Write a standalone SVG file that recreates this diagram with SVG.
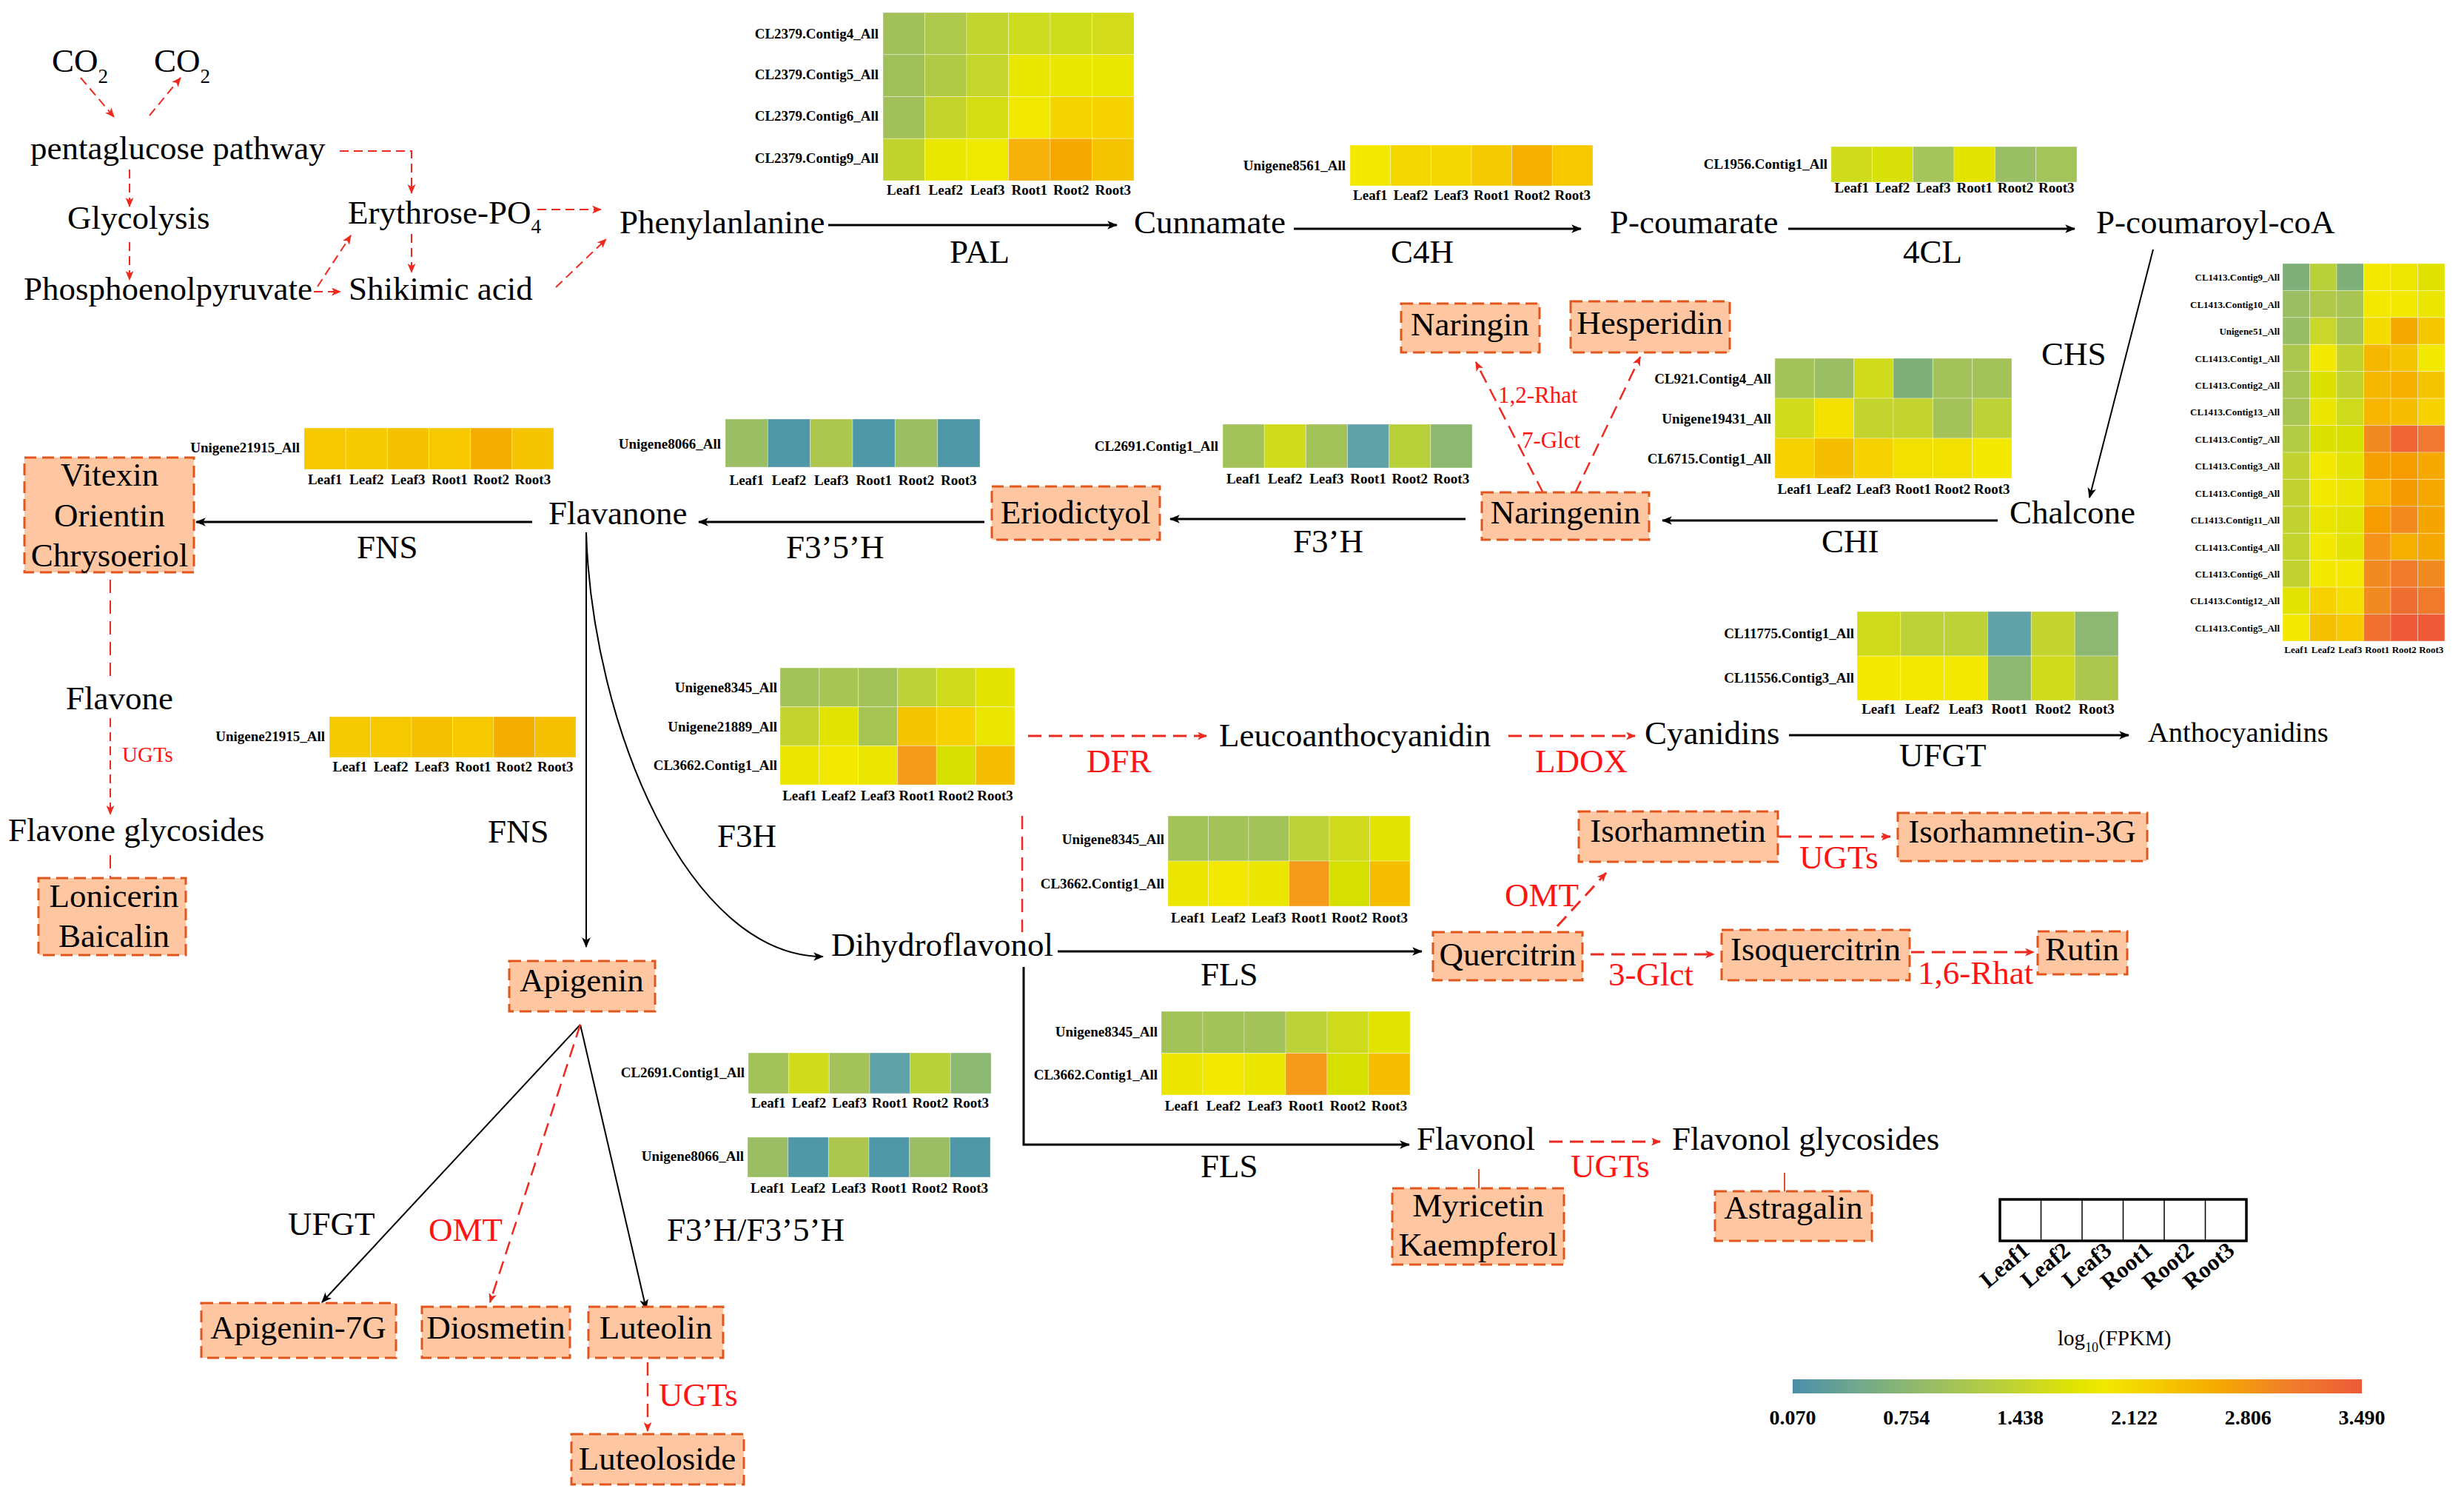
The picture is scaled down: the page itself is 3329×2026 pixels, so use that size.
<svg xmlns="http://www.w3.org/2000/svg" width="3329" height="2026" viewBox="0 0 3329 2026">
<style>
text{font-family:"Liberation Serif","Times New Roman",serif;font-size:45px;fill:#000}
.r{fill:#FF1414}
.s{font-size:31px}
.hl{font-weight:bold;font-size:19px}
.hc{font-weight:bold;font-size:19px;text-anchor:middle}
.hs{font-weight:bold;font-size:13px}
.hsc{font-weight:bold;font-size:13px;text-anchor:middle}
.m{text-anchor:middle}
.e{text-anchor:end}
.box{fill:#FFC7A1;stroke:#E2561E;stroke-width:3;stroke-dasharray:16 8}
.ar{stroke:#000;stroke-width:3;fill:none;marker-end:url(#ab)}
.ar2{stroke:#000;stroke-width:2;fill:none;marker-end:url(#ab)}
.rd{stroke:#EE2A1E;stroke-width:3;fill:none;stroke-dasharray:18 10;marker-end:url(#arr)}
.rdn{stroke:#EE2A1E;stroke-width:2.5;fill:none;stroke-dasharray:18 10}
.rt{stroke:#EE2A1E;stroke-width:2;fill:none;stroke-dasharray:12 7;marker-end:url(#arr)}
.hm rect{stroke:#fff;stroke-opacity:.35;stroke-width:1}
.lg{font-weight:bold;font-size:31px}
.tk{font-weight:bold;font-size:28px;text-anchor:middle}
.sm{font-size:29px}
</style>
<defs>
<marker id="ab" viewBox="0 0 12 10" refX="11" refY="5" markerWidth="14" markerHeight="12" markerUnits="userSpaceOnUse" orient="auto"><path d="M0,0 L12,5 L0,10 L3,5z" fill="#000"/></marker>
<marker id="arr" viewBox="0 0 12 10" refX="11" refY="5" markerWidth="13" markerHeight="11" markerUnits="userSpaceOnUse" orient="auto"><path d="M0,0 L12,5 L0,10 L3,5z" fill="#EE2A1E"/></marker>
<linearGradient id="cb" x1="0" x2="1" y1="0" y2="0">
<stop offset="0" stop-color="#4A8FAA"/><stop offset=".12" stop-color="#74A98A"/><stop offset=".25" stop-color="#9ABF62"/><stop offset=".38" stop-color="#BDD236"/><stop offset=".5" stop-color="#E2E400"/><stop offset=".55" stop-color="#F2E800"/><stop offset=".65" stop-color="#F5C800"/><stop offset=".75" stop-color="#F5A800"/><stop offset=".88" stop-color="#F07C2C"/><stop offset="1" stop-color="#EE5A38"/>
</linearGradient>
</defs>
<rect width="3329" height="2026" fill="#fff"/>

<g id="connectors">
<path class="rt" d="M109,105 L154,158"/>
<path class="rt" d="M202,156 L244,105"/>
<path class="rt" d="M459,204 H556 V261"/>
<path class="rt" d="M175,229 V279"/>
<path class="rt" d="M175,327 V378"/>
<path class="rt" d="M424,394 H460"/>
<path class="rt" d="M429,387 L474,318"/>
<path class="rt" d="M556,316 V368"/>
<path class="rt" d="M726,283 H812"/>
<path class="rt" d="M751,388 L819,323"/>
<path class="ar" d="M1119,304 H1509"/>
<path class="ar" d="M1748,309 H2136"/>
<path class="ar" d="M2416,309 H2803"/>
<path class="ar2" d="M2909,337 L2823,672"/>
<path class="ar" d="M2699,703 H2246"/>
<path class="ar" d="M1980,701 H1581"/>
<path class="ar" d="M1330,705 H944"/>
<path class="ar" d="M719,705 H265"/>
<path class="ar2" d="M792,719 V1279"/>
<path class="ar2" d="M792,719 C800,980 930,1292 1112,1292"/>
<path class="ar" d="M2417,993 H2876"/>
<path class="ar" d="M1429,1285 H1921"/>
<path class="ar" d="M1383,1306 V1546 H1904"/>
<path class="ar2" d="M784,1384 L435,1759"/>
<path class="ar2" d="M784,1384 L873,1768"/>
<path class="rd" d="M2085,666 L1994,489" style="stroke-width:2.5"/>
<path class="rd" d="M2128,666 L2216,482" style="stroke-width:2.5"/>
<path class="rd" d="M1389,994 H1630"/>
<path class="rd" d="M2038,994 H2209"/>
<path class="rdn" d="M1381,1102 V1259"/>
<path class="rd" d="M2104,1251 L2170,1179"/>
<path class="rd" d="M2402,1130 H2554"/>
<path class="rd" d="M2149,1289 H2316"/>
<path class="rd" d="M2582,1286 H2748"/>
<path class="rd" d="M2093,1542 H2243"/>
<path class="rdn" d="M149,783 V915" style="stroke-width:2"/>
<path class="rt" d="M149,970 V1100"/>
<path class="rdn" d="M149,1155 V1186" style="stroke-width:2"/>
<path class="rd" d="M784,1384 L662,1759" style="stroke-width:2.5"/>
<path class="rd" d="M875,1840 V1933" style="stroke-width:2.5"/>
<path d="M1998,1579 V1605 M2411,1584 V1609" stroke="#E0502A" stroke-width="2" fill="none"/>
</g>

<g id="labels">
<text x="70" y="97">CO<tspan font-size="27" dy="15">2</tspan></text>
<text x="208" y="97">CO<tspan font-size="27" dy="15">2</tspan></text>
<text x="41" y="215">pentaglucose pathway</text>
<text x="91" y="309">Glycolysis</text>
<text x="32" y="405">Phosphoenolpyruvate</text>
<text x="470" y="302">Erythrose-PO<tspan font-size="27" dy="13">4</tspan></text>
<text x="471" y="405">Shikimic acid</text>
<text x="837" y="315">Phenylanlanine</text>
<text x="1532" y="315">Cunnamate</text>
<text x="2175" y="315">P-coumarate</text>
<text x="2832" y="315">P-coumaroyl-coA</text>
<text x="1283" y="355">PAL</text>
<text x="1879" y="355">C4H</text>
<text x="2571" y="355">4CL</text>
<text x="2758" y="493">CHS</text>
<text x="2715" y="707">Chalcone</text>
<text x="2461" y="746">CHI</text>
<text x="1747" y="746">F3’H</text>
<text x="741" y="708">Flavanone</text>
<text x="1062" y="754">F3’5’H</text>
<text x="482" y="754">FNS</text>
<text x="89" y="958">Flavone</text>
<text class="r sm" x="165" y="1029">UGTs</text>
<text x="11" y="1136">Flavone glycosides</text>
<text x="659" y="1138">FNS</text>
<text x="969" y="1144">F3H</text>
<text x="1647" y="1008">Leucoanthocyanidin</text>
<text class="r" x="1468" y="1043">DFR</text>
<text class="r" x="2074" y="1043">LDOX</text>
<text x="2222" y="1005">Cyanidins</text>
<text x="2566" y="1035">UFGT</text>
<text x="2902" y="1002" style="font-size:38.5px">Anthocyanidins</text>
<text x="1123" y="1291">Dihydroflavonol</text>
<text x="1622" y="1331">FLS</text>
<text x="1622" y="1590">FLS</text>
<text class="r" x="2033" y="1224">OMT</text>
<text class="r" x="2431" y="1173">UGTs</text>
<text class="r" x="2173" y="1331">3-Glct</text>
<text class="r" x="2591" y="1329">1,6-Rhat</text>
<text x="1914" y="1553">Flavonol</text>
<text class="r" x="2122" y="1590">UGTs</text>
<text x="2259" y="1553">Flavonol glycosides</text>
<text x="389" y="1668">UFGT</text>
<text class="r" x="579" y="1676">OMT</text>
<text x="901" y="1676">F3’H/F3’5’H</text>
<text class="r" x="890" y="1899">UGTs</text>
<text class="r s" x="2024" y="544">1,2-Rhat</text>
<text class="r s" x="2056" y="605">7-Glct</text>
</g>

<g id="node-vitexin"><rect class="box" x="33" y="618" width="229" height="155"/><text class="m" x="148" y="656">Vitexin</text><text class="m" x="148" y="711">Orientin</text><text class="m" x="148" y="765">Chrysoeriol</text></g>
<g id="node-lonicerin"><rect class="box" x="52" y="1186" width="199" height="104"/><text class="m" x="154" y="1225">Lonicerin</text><text class="m" x="154" y="1279">Baicalin</text></g>
<g id="node-naringin"><rect class="box" x="1893" y="410" width="187" height="66"/><text class="m" x="1986" y="453">Naringin</text></g>
<g id="node-hesperidin"><rect class="box" x="2122" y="407" width="215" height="69"/><text class="m" x="2229" y="451">Hesperidin</text></g>
<g id="node-eriodictyol"><rect class="box" x="1340" y="657" width="227" height="72"/><text class="m" x="1453" y="707">Eriodictyol</text></g>
<g id="node-naringenin"><rect class="box" x="2002" y="665" width="226" height="64"/><text class="m" x="2115" y="707">Naringenin</text></g>
<g id="node-apigenin"><rect class="box" x="688" y="1298" width="197" height="68"/><text class="m" x="786" y="1339">Apigenin</text></g>
<g id="node-quercitrin"><rect class="box" x="1936" y="1259" width="202" height="65"/><text class="m" x="2037" y="1304">Quercitrin</text></g>
<g id="node-isorhamnetin"><rect class="box" x="2133" y="1096" width="269" height="68"/><text class="m" x="2267" y="1137">Isorhamnetin</text></g>
<g id="node-isoquercitrin"><rect class="box" x="2326" y="1256" width="254" height="68"/><text class="m" x="2453" y="1297">Isoquercitrin</text></g>
<g id="node-rutin"><rect class="box" x="2753" y="1258" width="121" height="58"/><text class="m" x="2813" y="1297">Rutin</text></g>
<g id="node-isorhamnetin3g"><rect class="box" x="2564" y="1098" width="337" height="65"/><text class="m" x="2732" y="1138">Isorhamnetin-3G</text></g>
<g id="node-apigenin7g"><rect class="box" x="272" y="1760" width="263" height="74"/><text class="m" x="403" y="1808">Apigenin-7G</text></g>
<g id="node-diosmetin"><rect class="box" x="570" y="1765" width="200" height="69"/><text class="m" x="670" y="1808">Diosmetin</text></g>
<g id="node-luteolin"><rect class="box" x="795" y="1765" width="182" height="69"/><text class="m" x="886" y="1808">Luteolin</text></g>
<g id="node-luteoloside"><rect class="box" x="772" y="1937" width="233" height="68"/><text class="m" x="888" y="1985">Luteoloside</text></g>
<g id="node-myricetin"><rect class="box" x="1881" y="1605" width="232" height="103"/><text class="m" x="1997" y="1643">Myricetin</text><text class="m" x="1997" y="1696">Kaempferol</text></g>
<g id="node-astragalin"><rect class="box" x="2317" y="1609" width="212" height="67"/><text class="m" x="2423" y="1646">Astragalin</text></g>

<g id="hm-pal" class="hm" transform="translate(1193,17)">
<rect x="0" y="0" width="56.5" height="56.75" fill="#A2C15A"/><rect x="56.5" y="0" width="56.5" height="56.75" fill="#AEC84C"/><rect x="113" y="0" width="56.5" height="56.75" fill="#C2D430"/><rect x="169.5" y="0" width="56.5" height="56.75" fill="#CEDC1F"/><rect x="226" y="0" width="56.5" height="56.75" fill="#CEDC1E"/><rect x="282.5" y="0" width="56.5" height="56.75" fill="#D2DC1A"/>
<rect x="0" y="56.75" width="56.5" height="56.75" fill="#A0C059"/><rect x="56.5" y="56.75" width="56.5" height="56.75" fill="#B0C947"/><rect x="113" y="56.75" width="56.5" height="56.75" fill="#C4D52C"/><rect x="169.5" y="56.75" width="56.5" height="56.75" fill="#E9E600"/><rect x="226" y="56.75" width="56.5" height="56.75" fill="#E9E600"/><rect x="282.5" y="56.75" width="56.5" height="56.75" fill="#E9E600"/>
<rect x="0" y="113.5" width="56.5" height="56.75" fill="#A2C15A"/><rect x="56.5" y="113.5" width="56.5" height="56.75" fill="#C4D42D"/><rect x="113" y="113.5" width="56.5" height="56.75" fill="#D4DE12"/><rect x="169.5" y="113.5" width="56.5" height="56.75" fill="#F2E900"/><rect x="226" y="113.5" width="56.5" height="56.75" fill="#F5D500"/><rect x="282.5" y="113.5" width="56.5" height="56.75" fill="#F5D200"/>
<rect x="0" y="170.25" width="56.5" height="56.75" fill="#C0D32E"/><rect x="56.5" y="170.25" width="56.5" height="56.75" fill="#E9E700"/><rect x="113" y="170.25" width="56.5" height="56.75" fill="#EFE800"/><rect x="169.5" y="170.25" width="56.5" height="56.75" fill="#F6B10A"/><rect x="226" y="170.25" width="56.5" height="56.75" fill="#F5A800"/><rect x="282.5" y="170.25" width="56.5" height="56.75" fill="#F5C400"/>
<text class="hl e" x="-6" y="35">CL2379.Contig4_All</text><text class="hl e" x="-6" y="90">CL2379.Contig5_All</text><text class="hl e" x="-6" y="146">CL2379.Contig6_All</text><text class="hl e" x="-6" y="203">CL2379.Contig9_All</text>
<text class="hc" x="28.25" y="246">Leaf1</text><text class="hc" x="84.75" y="246">Leaf2</text><text class="hc" x="141.25" y="246">Leaf3</text><text class="hc" x="197.75" y="246">Root1</text><text class="hc" x="254.25" y="246">Root2</text><text class="hc" x="310.75" y="246">Root3</text>
</g>

<g id="hm-c4h" class="hm" transform="translate(1824,196)">
<rect x="0" width="54.67" height="55" fill="#F2E800"/><rect x="54.67" width="54.67" height="55" fill="#F5D700"/><rect x="109.33" width="54.67" height="55" fill="#F5D800"/><rect x="164" width="54.67" height="55" fill="#F5CA00"/><rect x="218.67" width="54.67" height="55" fill="#F5B000"/><rect x="273.33" width="54.67" height="55" fill="#F5C800"/>
<text class="hl e" x="-6" y="34">Unigene8561_All</text>
<text class="hc" x="27.3" y="74">Leaf1</text><text class="hc" x="82" y="74">Leaf2</text><text class="hc" x="136.7" y="74">Leaf3</text><text class="hc" x="191.3" y="74">Root1</text><text class="hc" x="246" y="74">Root2</text><text class="hc" x="300.7" y="74">Root3</text>
</g>

<g id="hm-4cl" class="hm" transform="translate(2474,198)">
<rect x="0" width="55.33" height="48" fill="#CEDC1C"/><rect x="55.33" width="55.33" height="48" fill="#D8E10A"/><rect x="110.67" width="55.33" height="48" fill="#A5C45A"/><rect x="166" width="55.33" height="48" fill="#E2E400"/><rect x="221.33" width="55.33" height="48" fill="#9ABF65"/><rect x="276.67" width="55.33" height="48" fill="#A3C45A"/>
<text class="hl e" x="-5" y="30">CL1956.Contig1_All</text>
<text class="hc" x="27.7" y="62">Leaf1</text><text class="hc" x="83" y="62">Leaf2</text><text class="hc" x="138.3" y="62">Leaf3</text><text class="hc" x="193.7" y="62">Root1</text><text class="hc" x="249" y="62">Root2</text><text class="hc" x="304.3" y="62">Root3</text>
</g>

<g id="hm-chs" class="hm" transform="translate(3084,356)">
<rect x="0" y="0" width="36.5" height="36.43" fill="#80B07A"/><rect x="36.5" y="0" width="36.5" height="36.43" fill="#B8D03A"/><rect x="73" y="0" width="36.5" height="36.43" fill="#80B07A"/><rect x="109.5" y="0" width="36.5" height="36.43" fill="#F2E800"/><rect x="146" y="0" width="36.5" height="36.43" fill="#EDE600"/><rect x="182.5" y="0" width="36.5" height="36.43" fill="#E2E200"/>
<rect x="0" y="36.43" width="36.5" height="36.43" fill="#9BBE64"/><rect x="36.5" y="36.43" width="36.5" height="36.43" fill="#B0C94A"/><rect x="73" y="36.43" width="36.5" height="36.43" fill="#A8C553"/><rect x="109.5" y="36.43" width="36.5" height="36.43" fill="#F2E800"/><rect x="146" y="36.43" width="36.5" height="36.43" fill="#F2E800"/><rect x="182.5" y="36.43" width="36.5" height="36.43" fill="#EBE600"/>
<rect x="0" y="72.86" width="36.5" height="36.43" fill="#98BD66"/><rect x="36.5" y="72.86" width="36.5" height="36.43" fill="#C8D72A"/><rect x="73" y="72.86" width="36.5" height="36.43" fill="#A6C454"/><rect x="109.5" y="72.86" width="36.5" height="36.43" fill="#F4DC00"/><rect x="146" y="72.86" width="36.5" height="36.43" fill="#F5A800"/><rect x="182.5" y="72.86" width="36.5" height="36.43" fill="#F5C500"/>
<rect x="0" y="109.29" width="36.5" height="36.43" fill="#ADC64E"/><rect x="36.5" y="109.29" width="36.5" height="36.43" fill="#F2E800"/><rect x="73" y="109.29" width="36.5" height="36.43" fill="#C2D331"/><rect x="109.5" y="109.29" width="36.5" height="36.43" fill="#F5B800"/><rect x="146" y="109.29" width="36.5" height="36.43" fill="#F5C400"/><rect x="182.5" y="109.29" width="36.5" height="36.43" fill="#F2E800"/>
<rect x="0" y="145.71" width="36.5" height="36.43" fill="#A8C553"/><rect x="36.5" y="145.71" width="36.5" height="36.43" fill="#DCE100"/><rect x="73" y="145.71" width="36.5" height="36.43" fill="#C2D331"/><rect x="109.5" y="145.71" width="36.5" height="36.43" fill="#F5B800"/><rect x="146" y="145.71" width="36.5" height="36.43" fill="#F5B000"/><rect x="182.5" y="145.71" width="36.5" height="36.43" fill="#F5C400"/>
<rect x="0" y="182.14" width="36.5" height="36.43" fill="#A8C553"/><rect x="36.5" y="182.14" width="36.5" height="36.43" fill="#EAE600"/><rect x="73" y="182.14" width="36.5" height="36.43" fill="#CEDB1C"/><rect x="109.5" y="182.14" width="36.5" height="36.43" fill="#F5B500"/><rect x="146" y="182.14" width="36.5" height="36.43" fill="#F5BE00"/><rect x="182.5" y="182.14" width="36.5" height="36.43" fill="#F5D200"/>
<rect x="0" y="218.57" width="36.5" height="36.43" fill="#B4CC44"/><rect x="36.5" y="218.57" width="36.5" height="36.43" fill="#DCE100"/><rect x="73" y="218.57" width="36.5" height="36.43" fill="#D6E000"/><rect x="109.5" y="218.57" width="36.5" height="36.43" fill="#F28A22"/><rect x="146" y="218.57" width="36.5" height="36.43" fill="#EF6535"/><rect x="182.5" y="218.57" width="36.5" height="36.43" fill="#F07830"/>
<rect x="0" y="255" width="36.5" height="36.43" fill="#C2D331"/><rect x="36.5" y="255" width="36.5" height="36.43" fill="#F2E800"/><rect x="73" y="255" width="36.5" height="36.43" fill="#E2E400"/><rect x="109.5" y="255" width="36.5" height="36.43" fill="#F5A000"/><rect x="146" y="255" width="36.5" height="36.43" fill="#F59C00"/><rect x="182.5" y="255" width="36.5" height="36.43" fill="#F5A800"/>
<rect x="0" y="291.43" width="36.5" height="36.43" fill="#C2D331"/><rect x="36.5" y="291.43" width="36.5" height="36.43" fill="#F2E800"/><rect x="73" y="291.43" width="36.5" height="36.43" fill="#EAE600"/><rect x="109.5" y="291.43" width="36.5" height="36.43" fill="#F5B500"/><rect x="146" y="291.43" width="36.5" height="36.43" fill="#F59A00"/><rect x="182.5" y="291.43" width="36.5" height="36.43" fill="#F5A800"/>
<rect x="0" y="327.86" width="36.5" height="36.43" fill="#C2D331"/><rect x="36.5" y="327.86" width="36.5" height="36.43" fill="#EAE600"/><rect x="73" y="327.86" width="36.5" height="36.43" fill="#E2E400"/><rect x="109.5" y="327.86" width="36.5" height="36.43" fill="#F59C00"/><rect x="146" y="327.86" width="36.5" height="36.43" fill="#F28A1E"/><rect x="182.5" y="327.86" width="36.5" height="36.43" fill="#F5A500"/>
<rect x="0" y="364.29" width="36.5" height="36.43" fill="#C4D42F"/><rect x="36.5" y="364.29" width="36.5" height="36.43" fill="#F2E800"/><rect x="73" y="364.29" width="36.5" height="36.43" fill="#E2E400"/><rect x="109.5" y="364.29" width="36.5" height="36.43" fill="#F5921A"/><rect x="146" y="364.29" width="36.5" height="36.43" fill="#F5AF00"/><rect x="182.5" y="364.29" width="36.5" height="36.43" fill="#F5A800"/>
<rect x="0" y="400.71" width="36.5" height="36.43" fill="#C2D331"/><rect x="36.5" y="400.71" width="36.5" height="36.43" fill="#F2E800"/><rect x="73" y="400.71" width="36.5" height="36.43" fill="#F2E800"/><rect x="109.5" y="400.71" width="36.5" height="36.43" fill="#F28A22"/><rect x="146" y="400.71" width="36.5" height="36.43" fill="#F07A2C"/><rect x="182.5" y="400.71" width="36.5" height="36.43" fill="#F28A22"/>
<rect x="0" y="437.14" width="36.5" height="36.43" fill="#E2E400"/><rect x="36.5" y="437.14" width="36.5" height="36.43" fill="#F5D200"/><rect x="73" y="437.14" width="36.5" height="36.43" fill="#F3DE00"/><rect x="109.5" y="437.14" width="36.5" height="36.43" fill="#F28A22"/><rect x="146" y="437.14" width="36.5" height="36.43" fill="#EF6E32"/><rect x="182.5" y="437.14" width="36.5" height="36.43" fill="#F07A2C"/>
<rect x="0" y="473.57" width="36.5" height="36.43" fill="#F2E800"/><rect x="36.5" y="473.57" width="36.5" height="36.43" fill="#F5C000"/><rect x="73" y="473.57" width="36.5" height="36.43" fill="#F5C800"/><rect x="109.5" y="473.57" width="36.5" height="36.43" fill="#EF7030"/><rect x="146" y="473.57" width="36.5" height="36.43" fill="#EE5A38"/><rect x="182.5" y="473.57" width="36.5" height="36.43" fill="#EE5A38"/>
<text class="hs e" x="-4" y="23.2">CL1413.Contig9_All</text><text class="hs e" x="-4" y="59.6">CL1413.Contig10_All</text><text class="hs e" x="-4" y="96.1">Unigene51_All</text><text class="hs e" x="-4" y="132.5">CL1413.Contig1_All</text><text class="hs e" x="-4" y="168.9">CL1413.Contig2_All</text><text class="hs e" x="-4" y="205.4">CL1413.Contig13_All</text><text class="hs e" x="-4" y="241.8">CL1413.Contig7_All</text><text class="hs e" x="-4" y="278.2">CL1413.Contig3_All</text><text class="hs e" x="-4" y="314.6">CL1413.Contig8_All</text><text class="hs e" x="-4" y="351.1">CL1413.Contig11_All</text><text class="hs e" x="-4" y="387.5">CL1413.Contig4_All</text><text class="hs e" x="-4" y="423.9">CL1413.Contig6_All</text><text class="hs e" x="-4" y="460.4">CL1413.Contig12_All</text><text class="hs e" x="-4" y="496.8">CL1413.Contig5_All</text>
<text class="hsc" x="18.25" y="526">Leaf1</text><text class="hsc" x="54.75" y="526">Leaf2</text><text class="hsc" x="91.25" y="526">Leaf3</text><text class="hsc" x="127.75" y="526">Root1</text><text class="hsc" x="164.25" y="526">Root2</text><text class="hsc" x="200.75" y="526">Root3</text>
</g>

<g id="hm-fns1" class="hm" transform="translate(411,578)">
<rect x="0" width="56.17" height="56" fill="#F5C800"/><rect x="56.17" width="56.17" height="56" fill="#F5CA00"/><rect x="112.33" width="56.17" height="56" fill="#F5C200"/><rect x="168.5" width="56.17" height="56" fill="#F5C800"/><rect x="224.67" width="56.17" height="56" fill="#F5AE00"/><rect x="280.83" width="56.17" height="56" fill="#F5C400"/>
<text class="hl e" x="-6" y="33">Unigene21915_All</text>
<text class="hc" x="28.1" y="76">Leaf1</text><text class="hc" x="84.3" y="76">Leaf2</text><text class="hc" x="140.4" y="76">Leaf3</text><text class="hc" x="196.6" y="76">Root1</text><text class="hc" x="252.8" y="76">Root2</text><text class="hc" x="308.9" y="76">Root3</text>
</g>

<g id="hm-f35h" class="hm" transform="translate(980,566)">
<rect x="0" width="57.33" height="65" fill="#9BBE64"/><rect x="57.33" width="57.33" height="65" fill="#4E98A8"/><rect x="114.67" width="57.33" height="65" fill="#ADC64E"/><rect x="172" width="57.33" height="65" fill="#4E98A8"/><rect x="229.33" width="57.33" height="65" fill="#9BBE64"/><rect x="286.67" width="57.33" height="65" fill="#4E98A8"/>
<text class="hl e" x="-6" y="40">Unigene8066_All</text>
<text class="hc" x="28.7" y="89">Leaf1</text><text class="hc" x="86" y="89">Leaf2</text><text class="hc" x="143.3" y="89">Leaf3</text><text class="hc" x="200.7" y="89">Root1</text><text class="hc" x="258" y="89">Root2</text><text class="hc" x="315.3" y="89">Root3</text>
</g>

<g id="hm-f3h-cl2691" class="hm" transform="translate(1652,573)">
<rect x="0" width="56.17" height="59" fill="#A3C25A"/><rect x="56.17" width="56.17" height="59" fill="#D0DB1C"/><rect x="112.33" width="56.17" height="59" fill="#A3C25A"/><rect x="168.5" width="56.17" height="59" fill="#5FA2A8"/><rect x="224.67" width="56.17" height="59" fill="#B8D03A"/><rect x="280.83" width="56.17" height="59" fill="#8DB872"/>
<text class="hl e" x="-6" y="36">CL2691.Contig1_All</text>
<text class="hc" x="28.1" y="80">Leaf1</text><text class="hc" x="84.3" y="80">Leaf2</text><text class="hc" x="140.4" y="80">Leaf3</text><text class="hc" x="196.6" y="80">Root1</text><text class="hc" x="252.8" y="80">Root2</text><text class="hc" x="308.9" y="80">Root3</text>
</g>

<g id="hm-chi" class="hm" transform="translate(2398,484)">
<rect x="0" y="0" width="53.33" height="54" fill="#A3C25A"/><rect x="53.33" y="0" width="53.33" height="54" fill="#9BBE64"/><rect x="106.67" y="0" width="53.33" height="54" fill="#D0DB1C"/><rect x="160" y="0" width="53.33" height="54" fill="#80B07A"/><rect x="213.33" y="0" width="53.33" height="54" fill="#A3C25A"/><rect x="266.67" y="0" width="53.33" height="54" fill="#A3C25A"/>
<rect x="0" y="54" width="53.33" height="54" fill="#D0DB1C"/><rect x="53.33" y="54" width="53.33" height="54" fill="#F2E100"/><rect x="106.67" y="54" width="53.33" height="54" fill="#C4D42F"/><rect x="160" y="54" width="53.33" height="54" fill="#C4D42F"/><rect x="213.33" y="54" width="53.33" height="54" fill="#A3C25A"/><rect x="266.67" y="54" width="53.33" height="54" fill="#BCD238"/>
<rect x="0" y="108" width="53.33" height="54" fill="#F5D200"/><rect x="53.33" y="108" width="53.33" height="54" fill="#F5BE00"/><rect x="106.67" y="108" width="53.33" height="54" fill="#F5D200"/><rect x="160" y="108" width="53.33" height="54" fill="#F2E100"/><rect x="213.33" y="108" width="53.33" height="54" fill="#F2E100"/><rect x="266.67" y="108" width="53.33" height="54" fill="#F2E800"/>
<text class="hl e" x="-5" y="34">CL921.Contig4_All</text><text class="hl e" x="-5" y="88">Unigene19431_All</text><text class="hl e" x="-5" y="142">CL6715.Contig1_All</text>
<text class="hc" x="26.7" y="183">Leaf1</text><text class="hc" x="80" y="183">Leaf2</text><text class="hc" x="133.3" y="183">Leaf3</text><text class="hc" x="186.7" y="183">Root1</text><text class="hc" x="240" y="183">Root2</text><text class="hc" x="293.3" y="183">Root3</text>
</g>

<g id="hm-fns2" class="hm" transform="translate(445,968)">
<rect x="0" width="55.5" height="55" fill="#F5CA00"/><rect x="55.5" width="55.5" height="55" fill="#F5C800"/><rect x="111" width="55.5" height="55" fill="#F5C000"/><rect x="166.5" width="55.5" height="55" fill="#F5C800"/><rect x="222" width="55.5" height="55" fill="#F5AE00"/><rect x="277.5" width="55.5" height="55" fill="#F5C000"/>
<text class="hl e" x="-6" y="33">Unigene21915_All</text>
<text class="hc" x="27.75" y="74">Leaf1</text><text class="hc" x="83.25" y="74">Leaf2</text><text class="hc" x="138.75" y="74">Leaf3</text><text class="hc" x="194.25" y="74">Root1</text><text class="hc" x="249.75" y="74">Root2</text><text class="hc" x="305.25" y="74">Root3</text>
</g>

<g id="hm-f3h" class="hm" transform="translate(1054,902)">
<rect x="0" y="0" width="52.83" height="52.67" fill="#A3C25A"/><rect x="52.83" y="0" width="52.83" height="52.67" fill="#A8C553"/><rect x="105.67" y="0" width="52.83" height="52.67" fill="#A3C25A"/><rect x="158.5" y="0" width="52.83" height="52.67" fill="#BCD238"/><rect x="211.33" y="0" width="52.83" height="52.67" fill="#CEDB1C"/><rect x="264.17" y="0" width="52.83" height="52.67" fill="#E2E400"/>
<rect x="0" y="52.67" width="52.83" height="52.67" fill="#C4D42F"/><rect x="52.83" y="52.67" width="52.83" height="52.67" fill="#E2E400"/><rect x="105.67" y="52.67" width="52.83" height="52.67" fill="#A8C553"/><rect x="158.5" y="52.67" width="52.83" height="52.67" fill="#F5C400"/><rect x="211.33" y="52.67" width="52.83" height="52.67" fill="#F5D200"/><rect x="264.17" y="52.67" width="52.83" height="52.67" fill="#EAE600"/>
<rect x="0" y="105.33" width="52.83" height="52.67" fill="#EAE600"/><rect x="52.83" y="105.33" width="52.83" height="52.67" fill="#F2E800"/><rect x="105.67" y="105.33" width="52.83" height="52.67" fill="#EAE600"/><rect x="158.5" y="105.33" width="52.83" height="52.67" fill="#F59A1A"/><rect x="211.33" y="105.33" width="52.83" height="52.67" fill="#D6E000"/><rect x="264.17" y="105.33" width="52.83" height="52.67" fill="#F5BE00"/>
<text class="hl e" x="-4" y="33">Unigene8345_All</text><text class="hl e" x="-4" y="86">Unigene21889_All</text><text class="hl e" x="-4" y="138">CL3662.Contig1_All</text>
<text class="hc" x="26.4" y="179">Leaf1</text><text class="hc" x="79.2" y="179">Leaf2</text><text class="hc" x="132.1" y="179">Leaf3</text><text class="hc" x="184.9" y="179">Root1</text><text class="hc" x="237.7" y="179">Root2</text><text class="hc" x="290.6" y="179">Root3</text>
</g>

<g id="hm-ufgt" class="hm" transform="translate(2509,826)">
<rect x="0" y="0" width="58.83" height="60" fill="#CEDB1C"/><rect x="58.83" y="0" width="58.83" height="60" fill="#BCD238"/><rect x="117.67" y="0" width="58.83" height="60" fill="#BCD238"/><rect x="176.5" y="0" width="58.83" height="60" fill="#5FA2A8"/><rect x="235.33" y="0" width="58.83" height="60" fill="#C4D42F"/><rect x="294.17" y="0" width="58.83" height="60" fill="#8DB872"/>
<rect x="0" y="60" width="58.83" height="60" fill="#F2E800"/><rect x="58.83" y="60" width="58.83" height="60" fill="#F2E800"/><rect x="117.67" y="60" width="58.83" height="60" fill="#F2E800"/><rect x="176.5" y="60" width="58.83" height="60" fill="#8DB872"/><rect x="235.33" y="60" width="58.83" height="60" fill="#D0DB1C"/><rect x="294.17" y="60" width="58.83" height="60" fill="#ADC64E"/>
<text class="hl e" x="-4" y="36">CL11775.Contig1_All</text><text class="hl e" x="-4" y="96">CL11556.Contig3_All</text>
<text class="hc" x="29.4" y="138">Leaf1</text><text class="hc" x="88.3" y="138">Leaf2</text><text class="hc" x="147.1" y="138">Leaf3</text><text class="hc" x="205.9" y="138">Root1</text><text class="hc" x="264.8" y="138">Root2</text><text class="hc" x="323.6" y="138">Root3</text>
</g>

<g id="hm-fls1" class="hm" transform="translate(1578,1102)">
<rect x="0" y="0" width="54.5" height="61" fill="#A3C25A"/><rect x="54.5" y="0" width="54.5" height="61" fill="#A3C25A"/><rect x="109" y="0" width="54.5" height="61" fill="#A3C25A"/><rect x="163.5" y="0" width="54.5" height="61" fill="#BCD238"/><rect x="218" y="0" width="54.5" height="61" fill="#CEDB1C"/><rect x="272.5" y="0" width="54.5" height="61" fill="#E2E400"/>
<rect x="0" y="61" width="54.5" height="61" fill="#EAE600"/><rect x="54.5" y="61" width="54.5" height="61" fill="#F2E800"/><rect x="109" y="61" width="54.5" height="61" fill="#EAE600"/><rect x="163.5" y="61" width="54.5" height="61" fill="#F59A1A"/><rect x="218" y="61" width="54.5" height="61" fill="#D6E000"/><rect x="272.5" y="61" width="54.5" height="61" fill="#F5BE00"/>
<text class="hl e" x="-5" y="38">Unigene8345_All</text><text class="hl e" x="-5" y="98">CL3662.Contig1_All</text>
<text class="hc" x="27.25" y="144">Leaf1</text><text class="hc" x="81.75" y="144">Leaf2</text><text class="hc" x="136.25" y="144">Leaf3</text><text class="hc" x="190.75" y="144">Root1</text><text class="hc" x="245.25" y="144">Root2</text><text class="hc" x="299.75" y="144">Root3</text>
</g>

<g id="hm-fls2" class="hm" transform="translate(1569,1366)">
<rect x="0" y="0" width="56" height="56.5" fill="#A3C25A"/><rect x="56" y="0" width="56" height="56.5" fill="#A3C25A"/><rect x="112" y="0" width="56" height="56.5" fill="#A3C25A"/><rect x="168" y="0" width="56" height="56.5" fill="#BCD238"/><rect x="224" y="0" width="56" height="56.5" fill="#CEDB1C"/><rect x="280" y="0" width="56" height="56.5" fill="#E2E400"/>
<rect x="0" y="56.5" width="56" height="56.5" fill="#EAE600"/><rect x="56" y="56.5" width="56" height="56.5" fill="#F2E800"/><rect x="112" y="56.5" width="56" height="56.5" fill="#EAE600"/><rect x="168" y="56.5" width="56" height="56.5" fill="#F59A1A"/><rect x="224" y="56.5" width="56" height="56.5" fill="#D6E000"/><rect x="280" y="56.5" width="56" height="56.5" fill="#F5BE00"/>
<text class="hl e" x="-5" y="34">Unigene8345_All</text><text class="hl e" x="-5" y="92">CL3662.Contig1_All</text>
<text class="hc" x="28" y="134">Leaf1</text><text class="hc" x="84" y="134">Leaf2</text><text class="hc" x="140" y="134">Leaf3</text><text class="hc" x="196" y="134">Root1</text><text class="hc" x="252" y="134">Root2</text><text class="hc" x="308" y="134">Root3</text>
</g>

<g id="hm-cl2691b" class="hm" transform="translate(1011,1422)">
<rect x="0" width="54.67" height="55" fill="#A3C25A"/><rect x="54.67" width="54.67" height="55" fill="#D0DB1C"/><rect x="109.33" width="54.67" height="55" fill="#A3C25A"/><rect x="164" width="54.67" height="55" fill="#5FA2A8"/><rect x="218.67" width="54.67" height="55" fill="#B8D03A"/><rect x="273.33" width="54.67" height="55" fill="#8DB872"/>
<text class="hl e" x="-5" y="33">CL2691.Contig1_All</text>
<text class="hc" x="27.3" y="74">Leaf1</text><text class="hc" x="82" y="74">Leaf2</text><text class="hc" x="136.7" y="74">Leaf3</text><text class="hc" x="191.3" y="74">Root1</text><text class="hc" x="246" y="74">Root2</text><text class="hc" x="300.7" y="74">Root3</text>
</g>

<g id="hm-8066b" class="hm" transform="translate(1010,1536)">
<rect x="0" width="54.67" height="54" fill="#9BBE64"/><rect x="54.67" width="54.67" height="54" fill="#4E98A8"/><rect x="109.33" width="54.67" height="54" fill="#ADC64E"/><rect x="164" width="54.67" height="54" fill="#4E98A8"/><rect x="218.67" width="54.67" height="54" fill="#9BBE64"/><rect x="273.33" width="54.67" height="54" fill="#4E98A8"/>
<text class="hl e" x="-5" y="32">Unigene8066_All</text>
<text class="hc" x="27.3" y="75">Leaf1</text><text class="hc" x="82" y="75">Leaf2</text><text class="hc" x="136.7" y="75">Leaf3</text><text class="hc" x="191.3" y="75">Root1</text><text class="hc" x="246" y="75">Root2</text><text class="hc" x="300.7" y="75">Root3</text>
</g>

<g id="legend">
<rect x="2702" y="1620" width="333" height="56" fill="#fff" stroke="#000" stroke-width="3.5"/>
<path d="M2757.5,1620 V1676 M2813,1620 V1676 M2868.5,1620 V1676 M2924,1620 V1676 M2979.5,1620 V1676" stroke="#000" stroke-width="1.5"/>
<text class="lg e" transform="translate(2744,1692) rotate(-40)">Leaf1</text>
<text class="lg e" transform="translate(2799,1692) rotate(-40)">Leaf2</text>
<text class="lg e" transform="translate(2855,1692) rotate(-40)">Leaf3</text>
<text class="lg e" transform="translate(2910,1692) rotate(-40)">Root1</text>
<text class="lg e" transform="translate(2966,1692) rotate(-40)">Root2</text>
<text class="lg e" transform="translate(3021,1692) rotate(-40)">Root3</text>
<text class="sm" x="2780" y="1817">log<tspan font-size="18" dy="9">10</tspan><tspan dy="-9">(FPKM)</tspan></text>
<rect x="2422" y="1863" width="769" height="19" fill="url(#cb)"/>
<text class="tk" x="2422" y="1924">0.070</text><text class="tk" x="2575.8" y="1924">0.754</text><text class="tk" x="2729.6" y="1924">1.438</text><text class="tk" x="2883.4" y="1924">2.122</text><text class="tk" x="3037.2" y="1924">2.806</text><text class="tk" x="3191" y="1924">3.490</text>
</g>
</svg>
